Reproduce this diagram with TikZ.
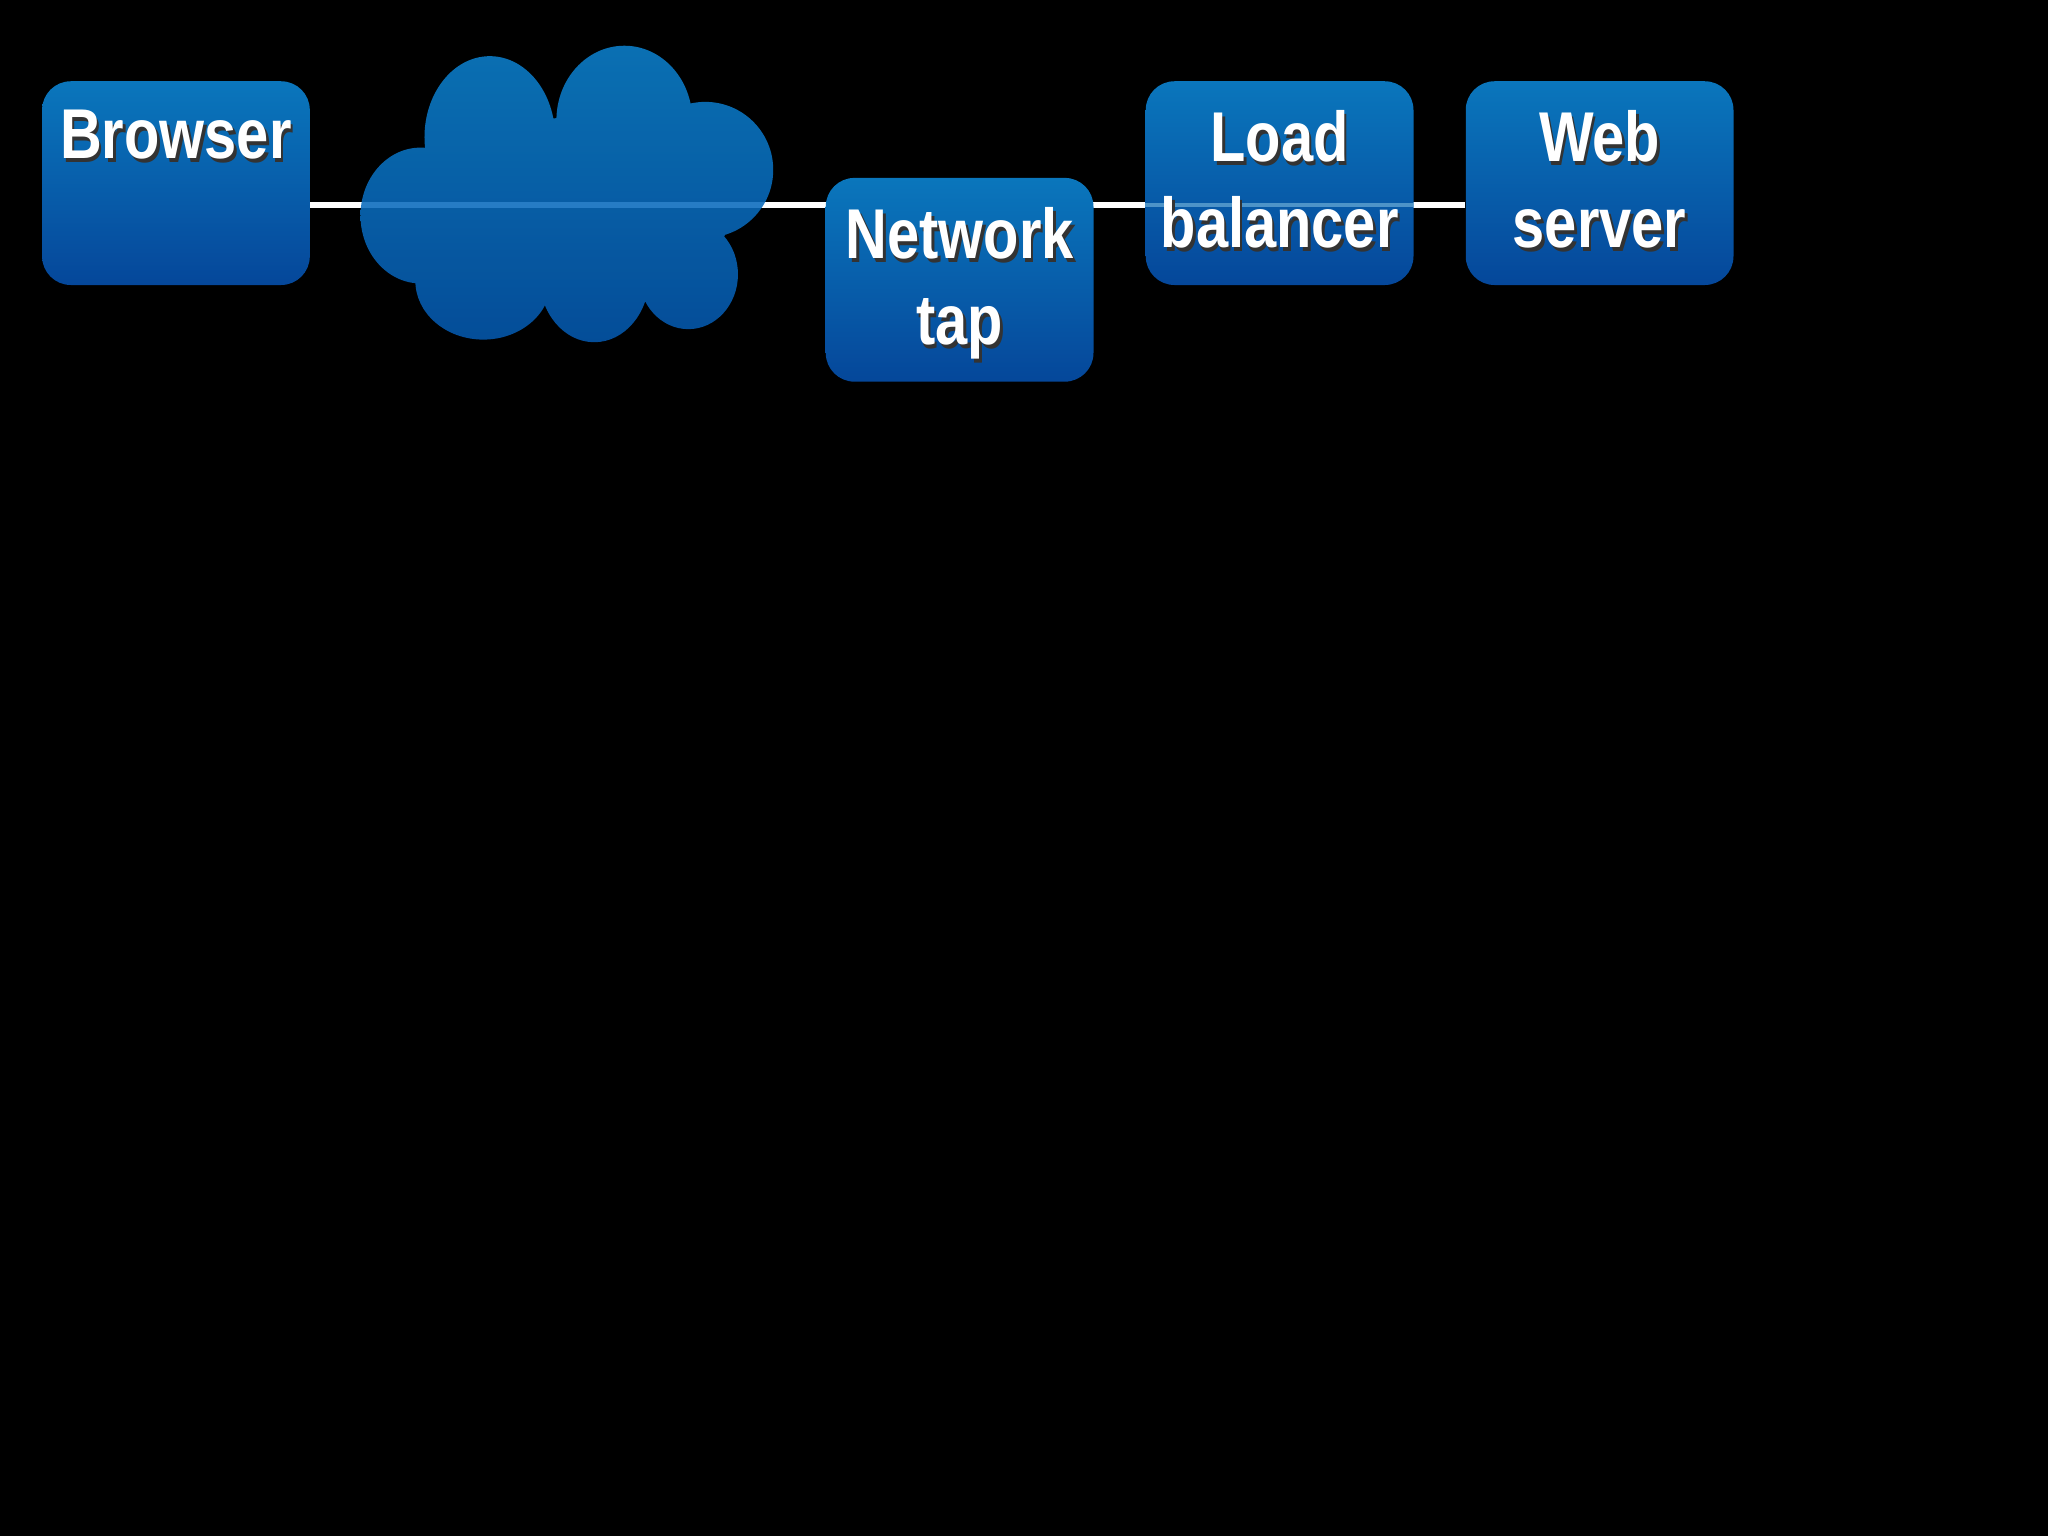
\documentclass[tikz,border=0pt]{standalone}
\usepackage{fontspec}
\setmainfont{Liberation Sans}[FakeStretch=0.82]
\usetikzlibrary{shadings}
\begin{document}
\begin{tikzpicture}[x=1pt,y=-1pt,
 box/.style={rounded corners=22pt,top color=blue1,bottom color=blue2,draw=none,minimum width=205pt,minimum height=156pt,anchor=north west},
 lbl/.style={text=white,font=\bfseries\fontsize{54}{66}\selectfont,align=center,anchor=north}]
\definecolor{blue1}{HTML}{0A76BC}
\definecolor{blue2}{HTML}{05479A}
\definecolor{cloud1}{HTML}{0C80CC}
\definecolor{cloud2}{HTML}{0558AE}
\fill[black] (0,0) rectangle (1568,1176);
\useasboundingbox (0,0) rectangle (1568,1176);
\coordinate (l0) at (237,157);
\coordinate (l1) at (1122,157);
\draw[white,line width=4pt] (l0) -- (l1);
\path[top color=cloud1,bottom color=cloud2,opacity=0.88,nonzero rule]
 (375,105) ellipse (50 and 62)
 (478,92) ellipse (52 and 57)
 (540,130) ellipse (52 and 52)
 (322,165) ellipse (46 and 52)
 (370,215) ellipse (52 and 45)
 (455,212) ellipse (42 and 50)
 (527,210) ellipse (38 and 42)
 (440,160) ellipse (120 and 70);
\node[box] (b) at (32,62) {};
\node[box] (n) at (632,136) {};
\node[box] (lb) at (877,62) {};
\node[box] (w) at (1122,62) {};
\draw[blue1!60!white,line width=3pt,opacity=0.7] (lb.west|-l0) -- (lb.east|-l0);
\foreach \p/\t in {b/Browser,n/{Network\\tap},lb/{Load\\balancer},w/{Web\\server}}{
 \node[lbl,text=black!80] at ([xshift=2pt,yshift=-22pt]\p.north) {\t};
 \node[lbl] at ([yshift=-19pt]\p.north) {\t};
}
\end{tikzpicture}
\end{document}
